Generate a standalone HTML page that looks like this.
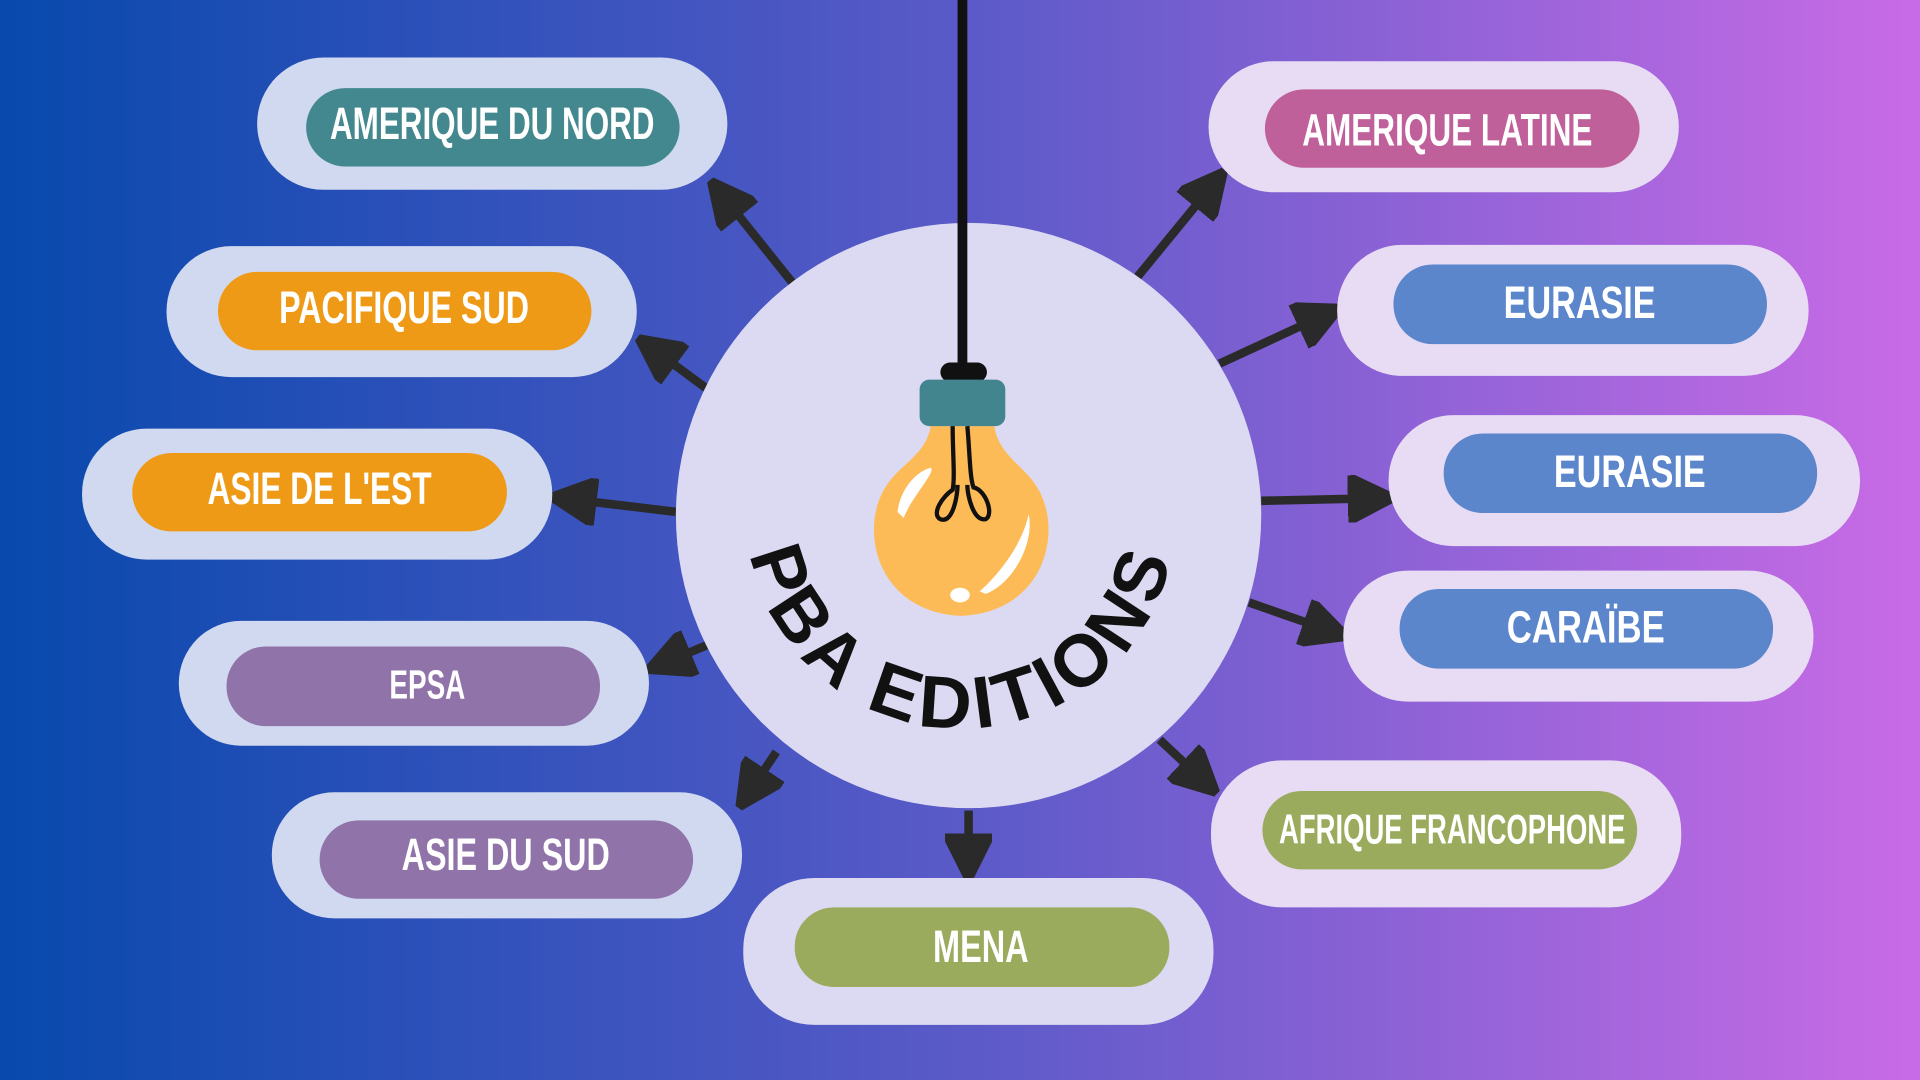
<!DOCTYPE html>
<html><head><meta charset="utf-8"><style>
html,body{margin:0;padding:0;width:1920px;height:1080px;overflow:hidden}
svg{display:block}
.t{font-family:"Liberation Sans",sans-serif;font-weight:bold;fill:#fff;font-size:37px;text-anchor:middle;dominant-baseline:central}
</style></head><body>
<svg width="1920" height="1080" viewBox="0 0 1568 882" preserveAspectRatio="none" xmlns="http://www.w3.org/2000/svg">
<defs>
<linearGradient id="bg" x1="0" y1="0" x2="1" y2="0">
<stop offset="0" stop-color="#0849ad"/><stop offset="0.5" stop-color="#5a5ac8"/><stop offset="1" stop-color="#c96be6"/>
</linearGradient>
<marker id="ah" viewBox="0 0 10 10" refX="5" refY="5" markerWidth="5.5" markerHeight="5.5" orient="auto" markerUnits="strokeWidth">
<path d="M0,0 L10,5 L0,10 z" fill="#2a2a2a" stroke="#2a2a2a" stroke-width="1.5" stroke-linejoin="round"/>
</marker>
</defs>
<rect width="1568" height="882" fill="url(#bg)"/>

<g stroke="#2a2a2a" stroke-width="7" fill="none" marker-end="url(#ah)">
<line x1="648" y1="232" x2="592" y2="162"/>
<line x1="578" y1="318" x2="536" y2="287"/>
<line x1="552" y1="418" x2="468" y2="408"/>
<line x1="577" y1="527" x2="546" y2="540"/>
<line x1="634" y1="614" x2="614" y2="644"/>
<line x1="791" y1="662" x2="791" y2="700"/>
<line x1="947" y1="604" x2="980" y2="635"/>
<line x1="1020" y1="492" x2="1083" y2="514"/>
<line x1="1030" y1="409" x2="1120" y2="407"/>
<line x1="996" y1="297" x2="1078" y2="259"/>
<line x1="929" y1="226" x2="988" y2="154"/>
</g>

<g fill="#d0d9ef">
<rect x="210" y="47" width="384" height="108" rx="54"/>
<rect x="136" y="201" width="384" height="107" rx="53"/>
<rect x="67" y="350" width="384" height="107" rx="53"/>
<rect x="146" y="507" width="384" height="102" rx="51"/>
<rect x="222" y="647" width="384" height="103" rx="51"/>
</g>
<rect x="607" y="717" width="384" height="120" rx="58" fill="#dcdaf3"/>
<g fill="#e8dcf4">
<rect x="989" y="621" width="384" height="120" rx="58"/>
<rect x="1097" y="466" width="384" height="107" rx="53"/>
<rect x="1134" y="339" width="385" height="107" rx="53"/>
<rect x="1092" y="200" width="385" height="107" rx="53"/>
<rect x="987" y="50" width="384" height="107" rx="53"/>
</g>

<rect x="250" y="72" width="305" height="64" rx="32" fill="#43888f"/>
<text class="t" x="402" y="101" textLength="265" lengthAdjust="spacingAndGlyphs">AMERIQUE DU NORD</text>
<rect x="178" y="222" width="305" height="64" rx="32" fill="#ef9a17"/>
<text class="t" x="330" y="251" textLength="204" lengthAdjust="spacingAndGlyphs">PACIFIQUE SUD</text>
<rect x="108" y="370" width="306" height="64" rx="32" fill="#ef9a17"/>
<text class="t" x="261" y="399" textLength="183" lengthAdjust="spacingAndGlyphs">ASIE DE L'EST</text>
<rect x="185" y="528" width="305" height="65" rx="32" fill="#9073a8"/>
<text class="t" x="349" y="559" style="font-size:33px" textLength="62" lengthAdjust="spacingAndGlyphs">EPSA</text>
<rect x="261" y="670" width="305" height="64" rx="32" fill="#9073a8"/>
<text class="t" x="413" y="698" textLength="170" lengthAdjust="spacingAndGlyphs">ASIE DU SUD</text>
<rect x="649" y="741" width="306" height="65" rx="32" fill="#9aab5e"/>
<text class="t" x="801" y="773" textLength="78" lengthAdjust="spacingAndGlyphs">MENA</text>
<rect x="1031" y="646" width="306" height="64" rx="32" fill="#9aab5e"/>
<text class="t" x="1186" y="677" style="font-size:34px" textLength="283" lengthAdjust="spacingAndGlyphs">AFRIQUE FRANCOPHONE</text>
<rect x="1143" y="481" width="305" height="65" rx="32" fill="#5b86cc"/>
<text class="t" x="1295" y="512" textLength="129" lengthAdjust="spacingAndGlyphs">CARAÏBE</text>
<rect x="1179" y="354" width="305" height="65" rx="32" fill="#5b86cc"/>
<text class="t" x="1331" y="385" textLength="124" lengthAdjust="spacingAndGlyphs">EURASIE</text>
<rect x="1138" y="216" width="305" height="65" rx="32" fill="#5b86cc"/>
<text class="t" x="1290" y="247" textLength="124" lengthAdjust="spacingAndGlyphs">EURASIE</text>
<rect x="1033" y="73" width="306" height="64" rx="32" fill="#c0609b"/>
<text class="t" x="1182" y="106" textLength="237" lengthAdjust="spacingAndGlyphs">AMERIQUE LATINE</text>

<circle cx="791" cy="421" r="239" fill="#dcdaf2"/>
<line x1="786" y1="0" x2="786" y2="305" stroke="#111" stroke-width="8"/>
<rect x="768" y="296" width="38" height="16" rx="8" fill="#111"/>
<path d="M760,348 L812,348 C815,370 835,380 845,395 C870,430 855,500 785,503 C715,500 700,430 725,395 C735,380 757,370 760,348 Z" fill="#fdbb58"/>
<rect x="751" y="310" width="70" height="38" rx="8" fill="#43858f"/>
<path d="M778,348 C778,370 780,390 778,400 C770,405 760,420 768,424 C778,428 782,405 782,396 M790,348 C792,370 792,390 795,398 C805,400 812,420 805,424 C795,426 790,405 790,396" stroke="#111" stroke-width="3.5" fill="none"/>
<path d="M733,418 C735,400 748,385 760,382 C765,385 745,405 738,423 Z" fill="#fff"/>
<path d="M800,483 C815,470 835,445 840,420 C845,440 830,475 805,485 Z" fill="#fff"/>
<ellipse cx="784" cy="486" rx="8" ry="6" fill="#fff"/>
<path id="arc" d="M610,420 A175,175 0 0 0 960,420" fill="none"/>
<text style="font-family:'Liberation Sans',sans-serif;font-weight:bold;font-size:60px;fill:#111;letter-spacing:5px"><textPath href="#arc" startOffset="50%" text-anchor="middle">PBA EDITIONS</textPath></text>
</svg>
</body></html>
